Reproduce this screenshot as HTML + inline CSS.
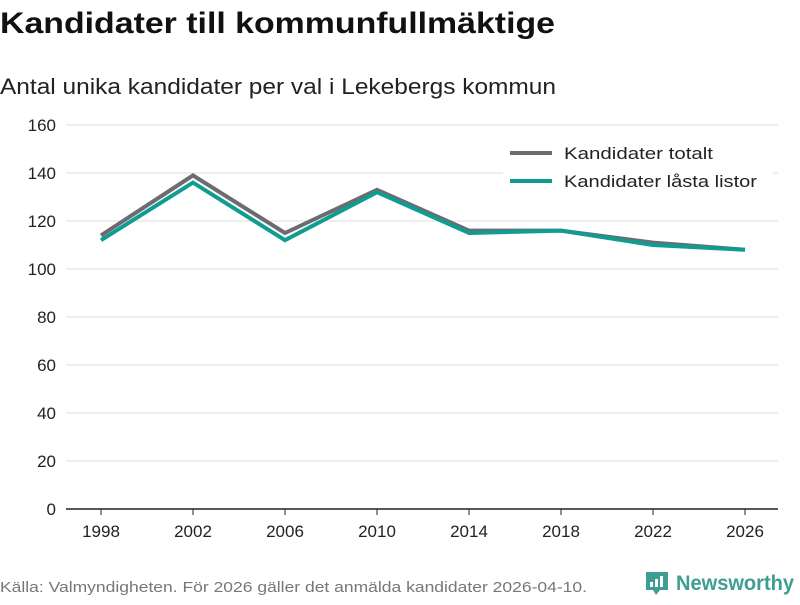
<!DOCTYPE html>
<html><head><meta charset="utf-8"><style>
body{margin:0;width:800px;height:600px;background:#fff;font-family:"Liberation Sans",sans-serif;overflow:hidden}
</style></head><body>
<svg width="800" height="600" xmlns="http://www.w3.org/2000/svg">
<text x="0" y="33" font-size="30" font-weight="bold" fill="#111" textLength="555" lengthAdjust="spacingAndGlyphs">Kandidater till kommunfullmäktige</text>
<text x="0" y="94" font-size="22" fill="#222" textLength="556" lengthAdjust="spacingAndGlyphs">Antal unika kandidater per val i Lekebergs kommun</text>
<g id="grid"></g>
<g id="lines"></g>
<g>
<rect x="503" y="140" width="270" height="60" fill="#fff"/>
<line x1="510" y1="153" x2="552" y2="153" stroke="#6c6b70" stroke-width="4"/>
<text x="564" y="159" font-size="17" fill="#222" textLength="149" lengthAdjust="spacingAndGlyphs">Kandidater totalt</text>
<line x1="510" y1="181" x2="552" y2="181" stroke="#0e9c93" stroke-width="4"/>
<text x="564" y="187" font-size="17" fill="#222" textLength="193" lengthAdjust="spacingAndGlyphs">Kandidater låsta listor</text>
</g>
<text x="0" y="592" font-size="15" fill="#777" textLength="587" lengthAdjust="spacingAndGlyphs">Källa: Valmyndigheten. För 2026 gäller det anmälda kandidater 2026-04-10.</text>
<g>
<path d="M646 572h22v18h-8l-4 5-3-5h-7z" fill="#3f9e93"/>
<rect x="650" y="582" width="3" height="5" fill="#fff"/><rect x="655" y="579" width="3" height="8" fill="#fff"/><rect x="660" y="576" width="3" height="11" fill="#fff"/>
<text x="676" y="590" font-size="21" font-weight="bold" fill="#3f9e93" textLength="118" lengthAdjust="spacingAndGlyphs">Newsworthy</text>
</g>
</svg>
<script>
const years=["1998","2002","2006","2010","2014","2018","2022","2026"];
const totalt=[114,139,115,133,116,116,111,108];
const lasta=[112,136,112,132,115,116,110,108];
const yTicks=[0,20,40,60,80,100,120,140,160];
const NS="http://www.w3.org/2000/svg";
const x=i=>101+i*92;
const y=v=>509-v*2.4;
const grid=document.getElementById('grid');
yTicks.forEach(t=>{
  const l=document.createElementNS(NS,'line');
  l.setAttribute('x1',66);l.setAttribute('x2',778);
  l.setAttribute('y1',y(t));l.setAttribute('y2',y(t));
  l.setAttribute('stroke',t===0?'#222':'#ddd');l.setAttribute('stroke-width',t===0?1.5:1);
  
  
  grid.appendChild(l);
  const tx=document.createElementNS(NS,'text');
  tx.setAttribute('x',56);tx.setAttribute('y',y(t)+6);tx.setAttribute('text-anchor','end');
  tx.setAttribute('font-size','17');tx.setAttribute('fill','#222');tx.textContent=t;
  
  
  grid.appendChild(tx);
});
years.forEach((yr,i)=>{
  const tk=document.createElementNS(NS,'line');
  tk.setAttribute('x1',x(i));tk.setAttribute('x2',x(i));tk.setAttribute('y1',509);tk.setAttribute('y2',515);
  tk.setAttribute('stroke','#222');
  
  
  grid.appendChild(tk);
  const tx=document.createElementNS(NS,'text');
  tx.setAttribute('x',x(i));tx.setAttribute('y',537);tx.setAttribute('text-anchor','middle');
  tx.setAttribute('font-size','17');tx.setAttribute('fill','#222');tx.textContent=yr;
  
  
  grid.appendChild(tx);
});
const lines=document.getElementById('lines');
[[totalt,'#6c6b70','line-totalt'],[lasta,'#0e9c93','line-lasta']].forEach(([d,c,n])=>{
  const p=document.createElementNS(NS,'polyline');
  p.setAttribute('points',d.map((v,i)=>x(i)+','+y(v)).join(' '));
  p.setAttribute('fill','none');p.setAttribute('stroke',c);p.setAttribute('stroke-width',4);
  
  
  lines.appendChild(p);
});
</script>
</body></html>
